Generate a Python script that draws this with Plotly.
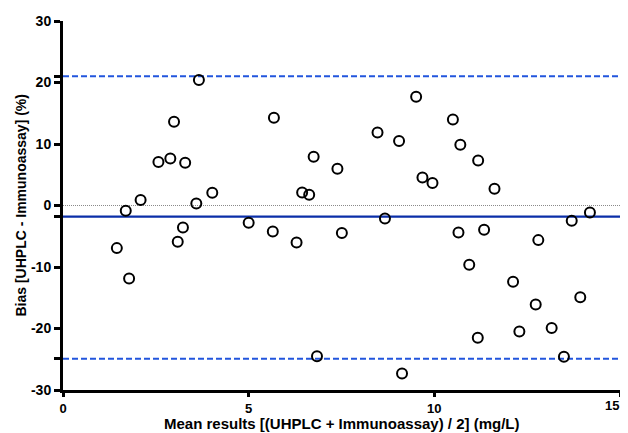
import plotly.graph_objects as go

mean_x = [3.66, 2.99, 2.57, 2.89, 3.29, 4.02, 3.59, 2.09, 1.69, 3.23, 3.09, 1.45, 1.78, 5.00,
          5.68, 9.51, 8.47, 9.05, 6.75, 7.39, 9.68, 9.95, 6.44, 6.63, 5.65, 6.29, 7.51, 8.67, 6.84, 9.13,
          10.50, 10.70, 11.18, 11.62, 14.19, 13.70, 10.65, 11.34, 12.80, 10.94, 12.12, 13.93, 12.73,
          13.16, 12.29, 11.17, 13.49]
bias_y = [20.4, 13.6, 7.06, 7.64, 6.94, 2.07, 0.33, 0.88, -0.86, -3.58, -5.90, -6.93, -11.87, -2.81,
          14.26, 17.7, 11.87, 10.47, 7.92, 5.97, 4.55, 3.64, 2.11, 1.74, -4.23, -6.01, -4.49, -2.11, -24.5, -27.3,
          14.0, 9.87, 7.32, 2.72, -1.14, -2.49, -4.39, -3.95, -5.63, -9.64, -12.4, -14.9, -16.1,
          -19.9, -20.5, -21.5, -24.6]

mean_bias = -1.8
upper_loa = 21.0
lower_loa = -24.9
x_range = [0, 15]
y_range = [-30, 30]

y_tickvals = [-30, -20, -10, 0, 10, 20, 30]
x_tickvals = [0, 5, 10, 15]

x_title = "Mean results [(UHPLC + Immunoassay) / 2] (mg/L)"
y_title = "Bias [UHPLC - Immunoassay] (%)"

FONT = "Liberation Sans, Arial, sans-serif"

fig = go.Figure()

fig.add_trace(go.Scatter(x=x_range, y=[0, 0], mode="lines",
                         line=dict(color="#8a8a8a", width=1, dash="1px,1px"),
                         hoverinfo="skip", showlegend=False))
fig.add_trace(go.Scatter(x=x_range, y=[mean_bias, mean_bias], mode="lines",
                         line=dict(color="#0a2ea8", width=2.2),
                         hoverinfo="skip", showlegend=False))
for v in (upper_loa, lower_loa):
    fig.add_trace(go.Scatter(x=x_range, y=[v, v], mode="lines",
                             line=dict(color="#2255dd", width=2, dash="6px,3px"),
                             hoverinfo="skip", showlegend=False))

fig.add_trace(go.Scatter(x=mean_x, y=bias_y, mode="markers",
                         marker=dict(symbol="circle-open", size=10, color="black",
                                     line=dict(width=2, color="black")),
                         showlegend=False))

extra_ticks = [mean_bias, upper_loa, lower_loa]
all_y_ticks = y_tickvals + extra_ticks
all_y_text = ["<b>%d</b>" % v for v in y_tickvals] + [""] * len(extra_ticks)
# last x label is drawn as an annotation, nudged left so it is not clipped at the page edge
x_text = ["<b>%d</b>" % v for v in x_tickvals[:-1]] + [""]

# page body has an 8px margin: size the figure so the plot lands where the reference has it
fig.update_layout(
    width=628, height=425,
    margin=dict(l=55, r=16, t=13, b=43),
    paper_bgcolor="white", plot_bgcolor="white",
    font=dict(family=FONT, color="black"),
    xaxis=dict(range=x_range, tickvals=x_tickvals, ticktext=x_text,
               showgrid=False, zeroline=False, automargin=False,
               showline=True, linecolor="black", linewidth=3,
               ticks="outside", ticklen=4, tickwidth=3, tickcolor="black",
               ticklabeloverflow="allow",
               tickfont=dict(size=13, family=FONT)),
    yaxis=dict(range=y_range, tickvals=all_y_ticks, ticktext=all_y_text,
               showgrid=False, zeroline=False, automargin=False,
               showline=True, linecolor="black", linewidth=3,
               ticks="outside", ticklen=6, tickwidth=3, tickcolor="black",
               ticklabeloverflow="allow",
               tickfont=dict(size=14, family=FONT)),
    annotations=[
        dict(text="<b>%d</b>" % x_tickvals[-1], x=x_tickvals[-1], y=0, xref="x", yref="paper",
             xanchor="right", yanchor="top", xshift=1, yshift=-6, showarrow=False,
             font=dict(size=13, family=FONT)),
        dict(text="<b>%s</b>" % x_title, x=0.5, y=0, xref="paper", yref="paper",
             xanchor="center", yanchor="middle", yshift=-33, showarrow=False,
             font=dict(size=15, family=FONT)),
        dict(text="<b>%s</b>" % y_title, x=0, y=0.5, xref="paper", yref="paper",
             xanchor="center", yanchor="middle", xshift=-43, textangle=-90, showarrow=False,
             font=dict(size=14, family=FONT)),
    ],
)

fig.write_html("out.html")
